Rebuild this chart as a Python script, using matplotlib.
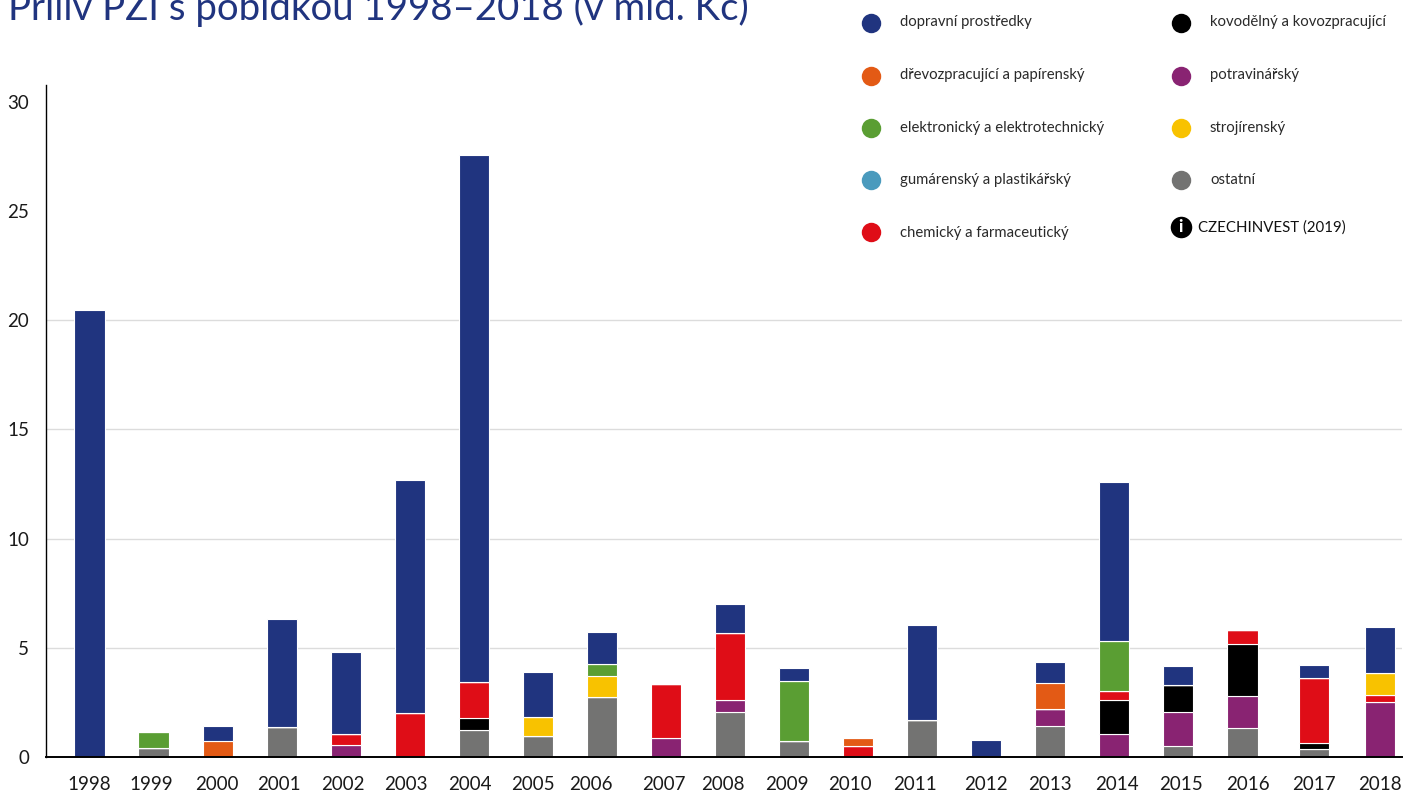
import matplotlib
matplotlib.use("Agg")
import matplotlib.pyplot as plt
from matplotlib.lines import Line2D
from matplotlib.transforms import ScaledTranslation

years = list(range(1998, 2019))
ostatni      = [0, .41, 0, 1.37, 0, 0, 1.22, .95, 2.76, 0, 2.04, .72, 0, 1.69, 0, 1.40, 0, .50, 1.31, .38, 0]
potravin     = [0, 0, 0, 0, .55, 0, 0, 0, 0, .85, .55, 0, 0, 0, 0, .78, 1.04, 1.54, 1.47, 0, 2.50]
kovo         = [0, 0, 0, 0, 0, 0, .58, 0, 0, 0, 0, 0, 0, 0, 0, 0, 1.55, 1.24, 2.38, .28, 0]
chemicky     = [0, 0, 0, 0, .50, 2.01, 1.62, 0, 0, 2.48, 3.07, 0, .52, 0, 0, 0, .43, 0, .65, 2.96, .35]
gumarensky   = [0] * 21
strojirensky = [0, 0, 0, 0, 0, 0, 0, .88, .95, 0, 0, 0, 0, 0, 0, 0, 0, 0, 0, 0, .98]
elektro      = [0, .75, 0, 0, 0, 0, 0, 0, .55, 0, 0, 2.76, 0, 0, 0, 0, 2.27, 0, 0, 0, 0]
drevo        = [0, 0, .72, 0, 0, 0, 0, 0, 0, 0, 0, 0, .33, 0, 0, 1.19, 0, 0, 0, 0, 0]
dopravni     = [20.48, 0, .70, 4.96, 3.74, 10.69, 24.15, 2.06, 1.45, 0, 1.33, .59, 0, 4.35, .79, .96, 7.32, .87, 0, .58, 2.13]

NAVY, ORANGE, GREEN, BLUE, RED = "#20347F", "#E35A15", "#5A9E33", "#4A9ABD", "#DF0D17"
BLACK, PURPLE, YELLOW, GRAY = "#000000", "#892372", "#F8C200", "#737372"

# bottom-to-top stacking order
stack = [(ostatni, GRAY), (potravin, PURPLE), (kovo, BLACK), (chemicky, RED),
         (gumarensky, BLUE), (strojirensky, YELLOW), (elektro, GREEN),
         (drevo, ORANGE), (dopravni, NAVY)]

legend_left = [("dopravní prostředky", NAVY), ("dřevozpracující a papírenský", ORANGE),
               ("elektronický a elektrotechnický", GREEN), ("gumárenský a plastikářský", BLUE),
               ("chemický a farmaceutický", RED)]
legend_right = [("kovodělný a kovozpracující", BLACK), ("potravinářský", PURPLE),
                ("strojírenský", YELLOW), ("ostatní", GRAY)]

W, H = 1403, 793
plt.rcParams["font.family"] = ["Lato", "DejaVu Sans"]
fig = plt.figure(figsize=(W / 100, H / 100), dpi=100, facecolor="white")
px, py = lambda x: x / W, lambda y: 1 - y / H

ax = fig.add_axes([px(46), py(757), (1402 - 46) / W, (757 - 85) / H])
ax.set_xlim(-0.679, 20.49)
ax.set_ylim(0, 30.76)
ax.set_axisbelow(True)

# the original widens the last two slots slightly
slot_shift = {2017: 0.118, 2018: 0.15}
x = [i + slot_shift.get(y, 0) for i, y in enumerate(years)]

bottom = [0.0] * len(years)
for vals, col in stack:
    ax.bar(x, vals, width=0.47, bottom=bottom, color=col, edgecolor="white", linewidth=0.8, zorder=3)
    bottom = [b + v for b, v in zip(bottom, vals)]

ax.set_yticks([0, 5, 10, 15, 20, 25, 30])
ax.set_yticklabels(["0", "5", "10", "15", "20", "25", "30"], fontsize=13.5, color="#1a1a1a")
ax.set_xticks(x)
ax.set_xticklabels([str(y) for y in years], fontsize=13.5, color="#1a1a1a")
ax.tick_params(axis="both", length=0)
ax.tick_params(axis="x", pad=14)
ax.tick_params(axis="y", pad=12)

# year labels sit slightly off their bars in the original (pixels)
label_dx = [0, -2, -1, -2.5, -3, -3.5, -4, -5, -11, -2.5, -7.5, -7, -8, -7, 0, 0, 3, 3, 5.5, 0, 0]
for lab, dx in zip(ax.get_xticklabels(), label_dx):
    lab.set_transform(lab.get_transform() + ScaledTranslation(dx / 100, 0, fig.dpi_scale_trans))

for s in ("top", "right"):
    ax.spines[s].set_visible(False)
ax.spines["left"].set_linewidth(1.0)
ax.spines["bottom"].set_linewidth(1.4)
ax.spines["bottom"].set_zorder(5)
ax.yaxis.grid(True, color="#DCDCDC", linewidth=1.0, zorder=0)
ax.get_ygridlines()[-1].set_visible(False)
ax.get_ygridlines()[-2].set_visible(False)

fig.text(px(8), py(20), "Příliv PZI s pobídkou 1998–2018 (v mld. Kč)", color=NAVY,
         fontsize=27.6, va="baseline", ha="left")

mark_y = [23.3, 75.7, 127.7, 180, 232]
text_y = [22, 75, 128, 180, 233]
for (name, col), my, ty in zip(legend_left, mark_y, text_y):
    fig.add_artist(Line2D([px(870.5)], [py(my)], marker="o", ms=14, color=col, mec="none", ls=""))
    fig.text(px(900), py(ty), name, fontsize=10.75, color="#2a2a2a", va="center", ha="left")
for (name, col), my, ty in zip(legend_right, mark_y, text_y):
    fig.add_artist(Line2D([px(1180.5)], [py(my)], marker="o", ms=14, color=col, mec="none", ls=""))
    fig.text(px(1210), py(ty), name, fontsize=10.75, color="#2a2a2a", va="center", ha="left")

fig.add_artist(Line2D([px(1180.5)], [py(227)], marker="o", ms=15.5, color="black", mec="none", ls=""))
fig.text(px(1180.5), py(227), "i", fontsize=12, color="white", weight="black", va="center", ha="center")
fig.text(px(1198.5), py(228), "CZECHINVEST (2019)", fontsize=10.85, color="#111111", va="center", ha="left")

fig.savefig("out.png", dpi=100, facecolor="white")
